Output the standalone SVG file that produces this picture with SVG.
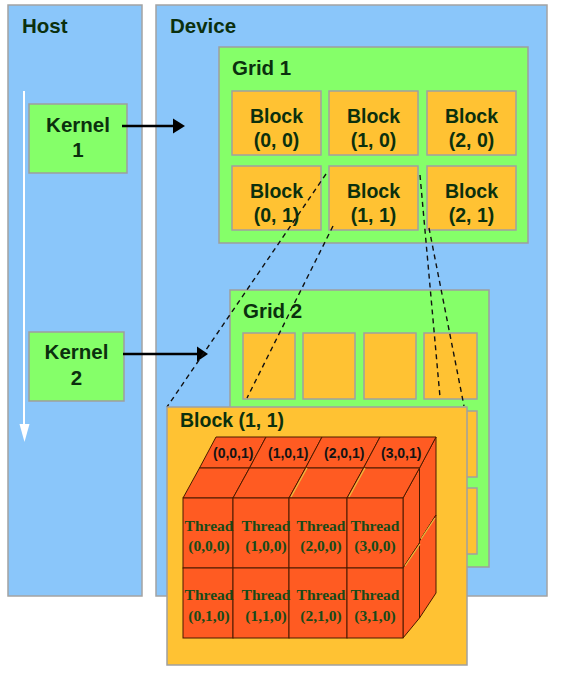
<svg xmlns="http://www.w3.org/2000/svg" width="562" height="679" viewBox="0 0 562 679">
<style>
.panel{fill:#8AC6FA;stroke:#A3A3A3;stroke-width:1.5}
.green{fill:#85FF69;stroke:#9E9E9E;stroke-width:1.5}
.orange{fill:#FFC233;stroke:#A0A0A0;stroke-width:1.5}
.cube{fill:#FF5B22;stroke:#4A1A00;stroke-width:1}
.hl{stroke:#E8C040;stroke-width:1.2;fill:none}
.lbl{font-family:"Liberation Sans",Arial,sans-serif;font-weight:bold;font-size:20.5px;fill:#0B300E}
.blk{font-family:"Liberation Sans",Arial,sans-serif;font-weight:bold;font-size:19.5px;fill:#0B300E;text-anchor:middle}
.ker{font-family:"Liberation Sans",Arial,sans-serif;font-weight:bold;font-size:20.5px;fill:#0B300E;text-anchor:middle}
.cl{font-family:"Liberation Sans",Arial,sans-serif;font-weight:bold;font-size:14px;fill:#141414}
.th{font-family:"Liberation Serif","Times New Roman",serif;font-weight:bold;font-size:15.5px;fill:#184A18;text-anchor:middle}
.dash{stroke:#111;stroke-width:1.4;stroke-dasharray:5 4;fill:none}
.arr{stroke:#000;stroke-width:2.5;fill:none}
</style>
<rect width="562" height="679" fill="#FFFFFF"/>
<g id="host">
<rect class="panel" x="8" y="5" width="134" height="591"/>
<text class="lbl" x="22" y="33">Host</text>
<line x1="24" y1="91" x2="24" y2="428" stroke="#FFFFFF" stroke-width="2"/>
<polygon points="19.5,424 29.5,424 24.5,442" fill="#FFFFFF"/>
</g>
<g id="kernel1">
<rect class="green" x="29" y="104" width="98" height="69"/>
<text class="ker" x="78" y="132">Kernel</text>
<text class="ker" x="78" y="157">1</text>
</g>
<g id="kernel2">
<rect class="green" x="29" y="332" width="95" height="69"/>
<text class="ker" x="76.5" y="359">Kernel</text>
<text class="ker" x="76.5" y="385">2</text>
</g>
<g id="device">
<rect class="panel" x="156" y="5" width="391" height="591"/>
<text class="lbl" x="170" y="33">Device</text>
</g>
<g id="grid1">
<rect class="green" x="219" y="47" width="309" height="196"/>
<text class="lbl" x="232" y="75">Grid 1</text>
<g id="block00"><rect class="orange" x="232" y="91" width="89" height="64"/><text class="blk" x="276.5" y="123">Block</text><text class="blk" x="276.5" y="147">(0, 0)</text></g>
<g id="block10"><rect class="orange" x="329" y="91" width="89" height="64"/><text class="blk" x="373.5" y="123">Block</text><text class="blk" x="373.5" y="147">(1, 0)</text></g>
<g id="block20"><rect class="orange" x="427" y="91" width="89" height="64"/><text class="blk" x="471.5" y="123">Block</text><text class="blk" x="471.5" y="147">(2, 0)</text></g>
<g id="block01"><rect class="orange" x="232" y="166" width="89" height="64"/><text class="blk" x="276.5" y="198">Block</text><text class="blk" x="276.5" y="222">(0, 1)</text></g>
<g id="block11"><rect class="orange" x="329" y="166" width="89" height="64"/><text class="blk" x="373.5" y="198">Block</text><text class="blk" x="373.5" y="222">(1, 1)</text></g>
<g id="block21"><rect class="orange" x="427" y="166" width="89" height="64"/><text class="blk" x="471.5" y="198">Block</text><text class="blk" x="471.5" y="222">(2, 1)</text></g>
</g>
<g id="grid2">
<rect class="green" x="230" y="290" width="259" height="277"/>
<text class="lbl" x="243" y="318">Grid 2</text>
<rect class="orange" x="243" y="333" width="52" height="66"/>
<rect class="orange" x="303" y="333" width="52" height="66"/>
<rect class="orange" x="364" y="333" width="52" height="66"/>
<rect class="orange" x="424" y="333" width="53" height="66"/>
<rect class="orange" x="424" y="411" width="53" height="66"/>
<rect class="orange" x="424" y="488" width="53" height="66"/>
</g>
<g id="connectors">
<line class="arr" x1="122" y1="126" x2="175" y2="126"/>
<polygon points="173,118.5 185,126 173,133.5" fill="#000"/>
<line class="arr" x1="123" y1="354" x2="199" y2="354"/>
<polygon points="197,346.5 208,354 197,361.5" fill="#000"/>
<line class="dash" x1="326" y1="174" x2="167" y2="407"/>
<line class="dash" x1="333" y1="226" x2="247" y2="398"/>
<line class="dash" x1="420" y1="175" x2="440" y2="397"/>
<line class="dash" x1="429" y1="228" x2="464" y2="406"/>
</g>
<g id="block11panel">
<rect class="orange" x="167" y="407" width="300" height="258"/>
<text class="blk" style="text-anchor:start" x="180" y="427">Block (1, 1)</text>
<g id="threads">
<polygon class="cube" points="419.5,468 436,437 436,515 419.5,541"/>
<polygon class="cube" points="419.5,541 436,515 436,593 419.5,618"/>
<polygon class="cube" points="403,498 419.5,468 419.5,543 403,568"/>
<polygon class="cube" points="403,568 419.5,543 419.5,618 403,638"/>
<polygon class="cube" points="199.5,468 249.5,468 266,437 216,437"/>
<polygon class="cube" points="249.5,468 305.5,468 322,437 266,437"/>
<polygon class="cube" points="305.5,468 363.5,468 380,437 322,437"/>
<polygon class="cube" points="363.5,468 419.5,468 436,437 380,437"/>
<polygon class="cube" points="183,498 233,498 249.5,468 199.5,468"/>
<polygon class="cube" points="233,498 289,498 305.5,468 249.5,468"/>
<polygon class="cube" points="289,498 347,498 363.5,468 305.5,468"/>
<polygon class="cube" points="347,498 403,498 419.5,468 363.5,468"/>
<line class="hl" x1="291" y1="497" x2="307" y2="468"/>
<line class="hl" x1="349" y1="497" x2="365" y2="468"/>
<line class="hl" x1="405" y1="566" x2="420" y2="544"/>
<line class="hl" x1="421" y1="539" x2="435" y2="518"/>
<text class="cl" x="213" y="458">(0,0,1)</text>
<text class="cl" x="268" y="458">(1,0,1)</text>
<text class="cl" x="324" y="458">(2,0,1)</text>
<text class="cl" x="381" y="458">(3,0,1)</text>
<rect class="cube" x="183" y="498" width="50" height="70"/>
<rect class="cube" x="233" y="498" width="56" height="70"/>
<rect class="cube" x="289" y="498" width="58" height="70"/>
<rect class="cube" x="347" y="498" width="56" height="70"/>
<rect class="cube" x="183" y="568" width="50" height="70"/>
<rect class="cube" x="233" y="568" width="56" height="70"/>
<rect class="cube" x="289" y="568" width="58" height="70"/>
<rect class="cube" x="347" y="568" width="56" height="70"/>
<text class="th" x="209" y="531">Thread</text><text class="th" x="209" y="551">(0,0,0)</text>
<text class="th" x="266" y="531">Thread</text><text class="th" x="266" y="551">(1,0,0)</text>
<text class="th" x="321" y="531">Thread</text><text class="th" x="321" y="551">(2,0,0)</text>
<text class="th" x="375" y="531">Thread</text><text class="th" x="375" y="551">(3,0,0)</text>
<text class="th" x="209" y="600">Thread</text><text class="th" x="209" y="621">(0,1,0)</text>
<text class="th" x="266" y="600">Thread</text><text class="th" x="266" y="621">(1,1,0)</text>
<text class="th" x="321" y="600">Thread</text><text class="th" x="321" y="621">(2,1,0)</text>
<text class="th" x="375" y="600">Thread</text><text class="th" x="375" y="621">(3,1,0)</text>
</g>
</g>
</svg>
